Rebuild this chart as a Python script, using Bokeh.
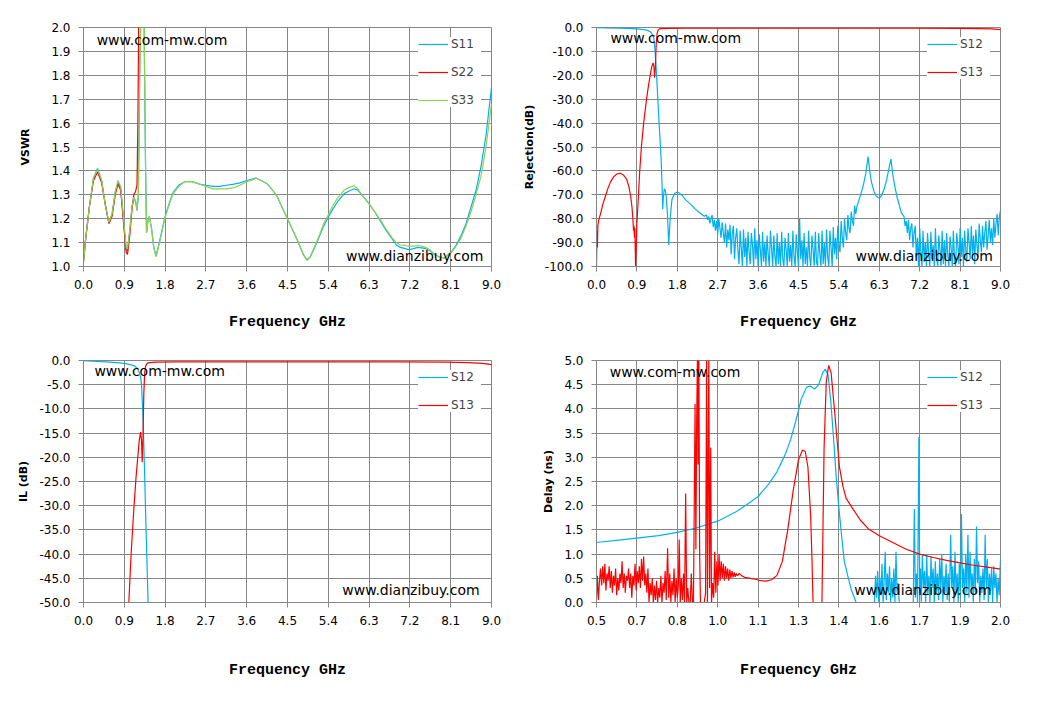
from bokeh.embed import file_html
from bokeh.layouts import gridplot
from bokeh.models import FixedTicker, Label
from bokeh.plotting import figure
from bokeh.resources import INLINE

NAN = float("nan")

BLUE = "#00B0F0"
RED = "#FF0000"
GREEN = "#92D050"
GRID_COLOR = "#868686"

# ---------------- axis ticks ----------------
freq_ticks = [0.0, 0.9, 1.8, 2.7, 3.6, 4.5, 5.4, 6.3, 7.2, 8.1, 9.0]
freq_tick_labels = ["0.0", "0.9", "1.8", "2.7", "3.6", "4.5", "5.4", "6.3", "7.2", "8.1", "9.0"]
delay_freq_ticks = [0.5, 0.65, 0.8, 0.95, 1.1, 1.25, 1.4, 1.55, 1.7, 1.85, 2.0]
delay_freq_tick_labels = ["0.5", "0.7", "0.8", "1.0", "1.1", "1.3", "1.4", "1.6", "1.7", "1.9", "2.0"]
vswr_ticks = [1.0, 1.1, 1.2, 1.3, 1.4, 1.5, 1.6, 1.7, 1.8, 1.9, 2.0]
vswr_tick_labels = ["1.0", "1.1", "1.2", "1.3", "1.4", "1.5", "1.6", "1.7", "1.8", "1.9", "2.0"]
rej_ticks = [0, -10, -20, -30, -40, -50, -60, -70, -80, -90, -100]
rej_tick_labels = ["0.0", "-10.0", "-20.0", "-30.0", "-40.0", "-50.0", "-60.0", "-70.0", "-80.0", "-90.0", "-100.0"]
il_ticks = [0, -5, -10, -15, -20, -25, -30, -35, -40, -45, -50]
il_tick_labels = ["0.0", "-5.0", "-10.0", "-15.0", "-20.0", "-25.0", "-30.0", "-35.0", "-40.0", "-45.0", "-50.0"]
delay_ticks = [0.0, 0.5, 1.0, 1.5, 2.0, 2.5, 3.0, 3.5, 4.0, 4.5, 5.0]
delay_tick_labels = ["0.0", "0.5", "1.0", "1.5", "2.0", "2.5", "3.0", "3.5", "4.0", "4.5", "5.0"]

# ---------------- VSWR (GHz) ----------------
vswr_freq = [0.0, 0.05, 0.13, 0.22, 0.31, 0.4, 0.48, 0.56, 0.63, 0.7,
             0.76, 0.82, 0.88, 0.94, 0.97, 1.02, 1.07, 1.11, 1.15, 1.18,
             1.21, 1.24, 1.32, 1.34, 1.37, 1.39, 1.42, 1.45, 1.5, 1.55,
             1.6, 1.66, 1.73, 1.8, 1.9, 1.98, 2.1, 2.23, 2.4, 2.55,
             2.7, 2.85, 3.0, 3.15, 3.32, 3.45, 3.6, 3.7, 3.8, 3.92,
             4.06, 4.17, 4.28, 4.4, 4.5, 4.62, 4.74, 4.85, 4.93, 5.0,
             5.1, 5.19, 5.3, 5.41, 5.5, 5.6, 5.75, 5.85, 5.97, 6.05,
             6.14, 6.29, 6.42, 6.55, 6.68, 6.81, 6.9, 6.99, 7.1, 7.18,
             7.28, 7.37, 7.46, 7.55, 7.65, 7.74, 7.85, 7.96, 8.05, 8.11,
             8.22, 8.33, 8.44, 8.55, 8.66, 8.77, 8.88, 9.0]
vswr_s11 = [1.02, 1.12, 1.25, 1.37, 1.41, 1.36, 1.26, 1.18, 1.22, 1.31,
            1.355, 1.33, 1.2, 1.07, 1.065, 1.15, 1.25, 1.29, 1.27, 1.235,
            1.3, 1.8, 2.6, 1.95, 1.4, 1.14, 1.19, 1.21, 1.16, 1.08,
            1.045, 1.09, 1.15, 1.21, 1.27, 1.31, 1.34, 1.355, 1.355, 1.345,
            1.34, 1.335, 1.335, 1.34, 1.345, 1.35, 1.36, 1.365, 1.37, 1.36,
            1.345, 1.32, 1.29, 1.24, 1.2, 1.15, 1.1, 1.05, 1.028, 1.04,
            1.08, 1.12, 1.17, 1.21, 1.24, 1.27, 1.305, 1.315, 1.325, 1.32,
            1.3, 1.265, 1.23, 1.19, 1.15, 1.115, 1.09, 1.08, 1.075, 1.07,
            1.075, 1.08, 1.078, 1.075, 1.065, 1.05, 1.04, 1.035, 1.05, 1.06,
            1.09, 1.13, 1.18, 1.25, 1.32, 1.42, 1.55, 1.75]
vswr_s33 = [1.02, 1.12, 1.25, 1.37, 1.405, 1.36, 1.26, 1.185, 1.22, 1.31,
            1.36, 1.335, 1.21, 1.08, 1.075, 1.15, 1.25, 1.29, 1.275, 1.235,
            1.3, 1.8, 2.6, 1.95, 1.4, 1.14, 1.19, 1.21, 1.16, 1.08,
            1.04, 1.085, 1.145, 1.205, 1.265, 1.305, 1.335, 1.355, 1.355, 1.345,
            1.335, 1.325, 1.325, 1.325, 1.33, 1.34, 1.355, 1.36, 1.37, 1.36,
            1.345, 1.32, 1.29, 1.24, 1.2, 1.15, 1.1, 1.05, 1.025, 1.04,
            1.085, 1.125, 1.18, 1.22, 1.255, 1.285, 1.32, 1.33, 1.338, 1.325,
            1.3, 1.265, 1.23, 1.195, 1.155, 1.12, 1.1, 1.09, 1.088, 1.085,
            1.085, 1.088, 1.085, 1.08, 1.068, 1.052, 1.04, 1.035, 1.05, 1.058,
            1.085, 1.12, 1.17, 1.23, 1.3, 1.38, 1.5, 1.68]
vswr_s22_freq = [0.0, 0.05, 0.13, 0.22, 0.31, 0.4, 0.48, 0.56, 0.63, 0.7,
                 0.76, 0.82, 0.88, 0.94, 0.97, 1.02, 1.07, 1.11, 1.15, 1.18,
                 1.2, 1.22, 1.24]
vswr_s22 = [1.02, 1.12, 1.25, 1.36, 1.395, 1.35, 1.26, 1.18, 1.21, 1.3,
            1.345, 1.32, 1.19, 1.06, 1.05, 1.13, 1.24, 1.3, 1.315, 1.34,
            1.6, 2.1, 2.6]

# ---------------- S12 / S13 transmission (dB) ----------------
s12_edge_freq = [0.0, 0.2, 0.5, 0.8, 0.9, 1.0, 1.1, 1.16, 1.2, 1.23,
                 1.26, 1.28, 1.3, 1.32, 1.35, 1.38, 1.41, 1.44, 1.46, 1.475,
                 1.49, 1.51, 1.53, 1.55, 1.58, 1.61, 1.64, 1.68, 1.74, 1.8,
                 1.86, 1.92, 1.98, 2.1, 2.2, 2.3, 2.4]
s12_edge_db = [-0.05, -0.15, -0.3, -0.5, -0.6, -0.8, -1.0, -1.4, -1.8, -2.5,
               -3.5, -5.0, -9.0, -14.0, -24.0, -35.0, -45.0, -55.0, -66.0, -76.0,
               -71.0, -67.5, -68.0, -70.0, -78.0, -91.0, -80.0, -72.0, -69.5, -68.8,
               -69.5, -70.5, -72.0, -74.0, -76.0, -77.5, -79.0]
s12_floor_a_freq = [2.45, 2.475, 2.5, 2.525, 2.55, 2.575, 2.6, 2.625, 2.65, 2.675,
                    2.7, 2.725, 2.75, 2.775, 2.8, 2.825, 2.85, 2.875, 2.9, 2.925,
                    2.95, 2.975, 3.0, 3.025, 3.05, 3.075, 3.1, 3.125, 3.15, 3.175,
                    3.2, 3.225, 3.25, 3.275, 3.3, 3.325, 3.35, 3.375, 3.4, 3.425,
                    3.45, 3.475, 3.5, 3.525, 3.55, 3.575, 3.6, 3.625, 3.65, 3.675,
                    3.7, 3.725, 3.75, 3.775, 3.8, 3.825, 3.85, 3.875, 3.9, 3.925,
                    3.95, 3.975, 4.0, 4.025, 4.05, 4.075, 4.1, 4.125, 4.15, 4.175,
                    4.2, 4.225, 4.25, 4.275, 4.3, 4.325, 4.35, 4.375, 4.4, 4.425,
                    4.45, 4.475, 4.5, 4.525, 4.55, 4.575, 4.6, 4.625, 4.65, 4.675,
                    4.7, 4.725, 4.75, 4.775, 4.8, 4.825, 4.85, 4.875, 4.9, 4.925,
                    4.95, 4.975, 5.0, 5.025, 5.05, 5.075, 5.1, 5.125, 5.15, 5.175,
                    5.2, 5.225, 5.25, 5.275, 5.3, 5.325, 5.35, 5.375, 5.4, 5.425,
                    5.45, 5.475, 5.5, 5.525, 5.55, 5.575, 5.6, 5.625, 5.65, 5.675,
                    5.7, 5.725, 5.75, 5.775, 5.8]
s12_floor_a_db = [-78.5, -80.5, -79.0, -82.0, -80.0, -78.5, -83.5, -80.5, -85.0, -81.0,
                  -86.5, -80.0, -84.0, -88.0, -81.5, -86.0, -90.0, -82.0, -92.0, -84.5,
                  -89.0, -82.5, -95.0, -86.0, -83.0, -97.0, -88.0, -84.0, -93.0, -99.0,
                  -85.0, -92.0, -100.0, -84.5, -96.0, -88.0, -100.0, -85.5, -94.0, -99.0,
                  -86.0, -91.0, -100.0, -84.0, -97.0, -89.0, -100.0, -86.5, -93.0, -100.0,
                  -85.5, -98.0, -90.0, -100.0, -87.0, -95.0, -100.0, -85.0, -92.0, -100.0,
                  -87.0, -96.0, -100.0, -86.0, -99.0, -90.0, -100.0, -85.5, -97.0, -100.0,
                  -88.0, -93.0, -100.0, -86.0, -98.0, -91.0, -100.0, -85.0, -96.0, -100.0,
                  -86.5, -94.0, -100.0, -80.0, -97.0, -89.0, -100.0, -86.0, -99.0, -92.0,
                  -100.0, -85.0, -96.0, -100.0, -87.0, -93.0, -100.0, -85.5, -98.0, -100.0,
                  -86.0, -95.0, -100.0, -85.0, -99.0, -90.0, -100.0, -84.5, -96.0, -100.0,
                  -85.0, -92.0, -100.0, -83.5, -95.0, -88.0, -97.0, -83.0, -91.0, -94.0,
                  -81.0, -88.0, -92.0, -80.0, -86.0, -89.0, -78.5, -84.0, -86.0, -77.0,
                  -81.0, -83.0, -74.5, -78.0, -75.0]
s12_spur_freq = [5.85, 5.9, 5.95, 6.0, 6.05, 6.09, 6.13, 6.18, 6.23, 6.3,
                 6.36, 6.41, 6.46, 6.51, 6.56, 6.6, 6.64, 6.69, 6.74, 6.79]
s12_spur_db = [-72.0, -69.0, -65.5, -61.0, -54.0, -60.5, -65.0, -68.5, -70.5, -71.5,
               -70.0, -67.5, -64.0, -59.5, -55.0, -61.5, -66.0, -70.5, -74.0, -77.5]
s12_floor_c_freq = [6.85, 6.875, 6.9, 6.925, 6.95, 6.975, 7.0, 7.025, 7.05, 7.075,
                    7.1, 7.125, 7.15, 7.175, 7.2, 7.225, 7.25, 7.275, 7.3, 7.325,
                    7.35, 7.375, 7.4, 7.425, 7.45, 7.475, 7.5, 7.525, 7.55, 7.575,
                    7.6, 7.625, 7.65, 7.675, 7.7, 7.725, 7.75, 7.775, 7.8, 7.825,
                    7.85, 7.875, 7.9, 7.925, 7.95, 7.975, 8.0, 8.025, 8.05, 8.075,
                    8.1, 8.125, 8.15, 8.175, 8.2, 8.225, 8.25, 8.275, 8.3, 8.325,
                    8.35, 8.375, 8.4, 8.425, 8.45, 8.475, 8.5, 8.525, 8.55, 8.575,
                    8.6, 8.625, 8.65, 8.675, 8.7, 8.725, 8.75, 8.775, 8.8, 8.825,
                    8.85, 8.875, 8.9, 8.925, 8.95, 8.975, 9.0]
s12_floor_c_db = [-79.0, -83.0, -81.0, -86.0, -80.5, -89.0, -84.0, -82.0, -92.0, -86.0,
                  -83.0, -96.0, -88.0, -100.0, -84.0, -94.0, -100.0, -85.0, -98.0, -90.0,
                  -100.0, -86.0, -95.0, -100.0, -85.5, -97.0, -91.0, -100.0, -84.0, -96.0,
                  -100.0, -87.0, -93.0, -100.0, -85.0, -99.0, -89.0, -100.0, -86.0, -95.0,
                  -100.0, -87.5, -92.0, -100.0, -85.0, -97.0, -100.0, -86.0, -91.0, -99.0,
                  -84.0, -96.0, -88.0, -100.0, -85.0, -93.0, -98.0, -84.0, -90.0, -97.0,
                  -83.0, -95.0, -87.0, -99.0, -84.5, -91.0, -96.0, -82.0, -89.0, -94.0,
                  -83.0, -92.0, -86.0, -81.0, -93.0, -87.0, -80.5, -90.0, -84.0, -91.0,
                  -80.0, -88.0, -82.0, -78.0, -87.0, -79.0, -76.5]

s13_freq = [0.0, 0.012, 0.02, 0.03, 0.05, 0.09, 0.14, 0.2, 0.26, 0.31,
            0.38, 0.45, 0.53, 0.6, 0.67, 0.72, 0.76, 0.79, 0.81, 0.825,
            0.835, 0.845, 0.855, 0.87, 0.885, 0.9, 0.93, 0.96, 1.0, 1.05,
            1.11, 1.16, 1.2, 1.23, 1.26, 1.28, 1.295, 1.31, 1.33, 1.35,
            1.37, 1.4, 1.45, 1.6, 2.0, 3.0, 4.0, 5.0, 6.0, 7.0,
            8.0, 8.5, 8.8, 9.0]
s13_db = [-100.0, -85.0, -92.0, -83.0, -80.5, -78.0, -74.0, -70.5, -67.0, -64.7,
          -62.5, -61.3, -61.0, -61.7, -63.5, -66.5, -70.5, -75.0, -80.0, -85.0,
          -83.0, -88.0, -84.0, -100.0, -92.0, -82.0, -72.0, -61.0, -50.0, -40.0,
          -30.7, -24.0, -19.7, -16.5, -14.8, -16.5, -21.0, -17.0, -7.0, -2.5,
          -1.2, -0.6, -0.45, -0.35, -0.3, -0.3, -0.3, -0.3, -0.3, -0.3,
          -0.35, -0.45, -0.6, -0.85]

# ---------------- group delay (ns) ----------------
delay_s12_freq = [0.5, 0.6, 0.65, 0.73, 0.8, 0.87, 0.95, 1.02, 1.06, 1.1,
                  1.14, 1.17, 1.2, 1.22, 1.24, 1.26, 1.28, 1.295, 1.31, 1.325,
                  1.34, 1.35, 1.36, 1.37, 1.38, 1.39, 1.4, 1.41, 1.42, 1.433,
                  1.445, 1.464]
delay_s12_ns = [1.24, 1.3, 1.33, 1.38, 1.45, 1.54, 1.68, 1.88, 2.03, 2.19,
                2.45, 2.7, 3.05, 3.35, 3.75, 4.2, 4.45, 4.47, 4.41, 4.5,
                4.75, 4.82, 4.7, 4.15, 3.4, 2.6, 1.95, 1.38, 0.85, 0.55,
                0.28, 0.0]
delay_s12_noise_freq = [1.532, 1.536, 1.54, 1.544, 1.548, 1.552, 1.556, 1.56, 1.564, 1.568,
                        1.572, 1.576, 1.58, 1.584, 1.588, 1.592, 1.596, 1.6, 1.604, 1.608,
                        1.612, 1.616, 1.62, 1.624, NAN, 1.676, 1.68, 1.684, 1.688, 1.692,
                        1.697, 1.7, 1.703, 1.706, 1.71, 1.714, 1.718, 1.722, 1.726, 1.73,
                        1.734, 1.738, 1.742, 1.746, 1.75, 1.754, 1.758, 1.762, 1.766, 1.77,
                        1.774, 1.778, 1.782, 1.786, 1.79, 1.794, 1.798, 1.802, 1.806, 1.81,
                        1.815, 1.819, 1.823, 1.827, 1.831, 1.835, 1.839, 1.843, 1.847, 1.851,
                        1.855, 1.859, 1.863, 1.867, 1.871, 1.875, 1.879, 1.883, 1.887, 1.891,
                        1.895, 1.899, 1.903, 1.907, 1.911, 1.915, 1.919, 1.923, 1.927, 1.931,
                        1.935, 1.939, 1.943, 1.947, 1.951, 1.955, 1.959, 1.963, 1.967, 1.971,
                        1.975, 1.979, 1.983, 1.987, 1.991, 1.995, 2.0]
delay_s12_noise_ns = [0.0, 0.55, 0.1, 0.65, 0.0, 0.5, 0.15, 0.8, 0.0, 0.45,
                      1.05, 0.05, 0.6, 0.2, 0.75, 0.0, 0.5, 0.1, 0.7, 0.0,
                      1.05, 0.2, 0.4, 0.0, NAN, 0.0, 1.93, 0.1, 0.6, 0.0,
                      3.42, 0.2, 0.7, 0.0, 1.0, 0.3, 0.65, 0.0, 1.0, 0.15,
                      0.55, 0.0, 0.95, 0.3, 0.7, 0.0, 0.85, 0.2, 0.6, 0.05,
                      0.9, 0.3, 1.0, 0.0, 0.55, 0.2, 0.8, 0.05, 0.6, 0.0,
                      1.4, 0.3, 0.75, 0.0, 1.05, 0.2, 0.6, 0.0, 0.8, 0.15,
                      1.83, 0.3, 0.7, 0.0, 1.0, 0.2, 1.4, 0.1, 1.05, 0.3,
                      0.6, 0.0, 0.9, 0.2, 1.57, 0.4, 0.85, 0.0, 0.55, 0.2,
                      0.7, 0.05, 1.4, 0.3, 0.9, 0.0, 0.6, 0.25, 0.7, 0.0,
                      0.75, 0.3, 0.6, 0.0, 0.5, 0.15, 0.9]

delay_s13_freq = [0.5, 0.503, 0.507, 0.511, 0.515, 0.519, 0.523, 0.527, 0.531, 0.535,
                  0.539, 0.543, 0.547, 0.551, 0.555, 0.559, 0.563, 0.567, 0.571, 0.575,
                  0.579, 0.583, 0.587, 0.591, 0.595, 0.599, 0.603, 0.607, 0.611, 0.615,
                  0.619, 0.623, 0.627, 0.631, 0.635, 0.639, 0.643, 0.647, 0.651, 0.655,
                  0.659, 0.663, 0.667, 0.671, 0.675, 0.679, 0.683, 0.687, 0.691, 0.695,
                  0.699, 0.703, 0.707, 0.711, 0.715, 0.719, 0.723, 0.727, 0.731, 0.735,
                  0.739, 0.743, 0.747, 0.751, 0.755, 0.759, 0.764, 0.768, 0.772, 0.776,
                  0.78, 0.784, 0.788, 0.792, 0.796, 0.8, 0.804, 0.807, 0.811, 0.815,
                  0.819, 0.823, 0.827, 0.831, 0.835, 0.839, 0.843, 0.848, 0.852, 0.856,
                  0.86, 0.866, 0.869, 0.872, 0.875, 0.877, 0.88, 0.883, 0.886, 0.89,
                  0.895, 0.9, 0.905, 0.909, 0.912, 0.917, 0.92, 0.924, 0.927, 0.931,
                  0.935, 0.939, 0.943, 0.947, 0.951, 0.955, 0.959, 0.963, 0.967, 0.971,
                  0.975, 0.979, 0.983, 0.987, 0.991, 0.995, 0.999, 1.003, 1.007, 1.011,
                  1.015, 1.019, 1.023, 1.03, 1.04, 1.05, 1.07, 1.09, 1.11, 1.13,
                  1.15, 1.17, 1.19, 1.21, 1.23, 1.25, 1.265, 1.275, 1.285, 1.295,
                  1.3, 1.304, NAN, 1.337, 1.345, 1.353, 1.362, 1.371, 1.384, 1.402,
                  1.415, 1.427, 1.45, 1.48, 1.51, 1.55, 1.6, 1.65, 1.7, 1.75,
                  1.8, 1.85, 1.9, 1.95, 2.0]
delay_s13_ns = [0.1, 0.55, 0.05, 0.45, 0.7, 0.35, 0.75, 0.4, 0.8, 0.25,
                0.6, 0.45, 0.75, 0.3, 0.65, 0.2, 0.55, 0.35, 0.7, 0.15,
                0.5, 0.25, 0.6, 0.4, 0.85, 0.3, 0.6, 0.2, 0.55, 0.45,
                0.7, 0.3, 0.6, 0.1, 0.55, 0.35, 0.8, 0.25, 0.65, 0.4,
                0.75, 0.3, 0.9, 0.45, 0.95, 0.35, 0.6, 0.2, 0.7, 0.0,
                0.4, 0.15, 0.5, 0.0, 0.35, 0.05, 0.45, 0.0, 0.3, 0.1,
                0.55, 0.0, 0.4, 0.2, 0.65, 0.05, 1.12, 0.1, 0.6, 0.0,
                0.45, 0.15, 0.7, 0.0, 0.5, 0.1, 0.35, 1.3, 0.0, 0.5,
                0.05, 0.6, 0.0, 2.25, 0.0, 0.3, 0.0, 0.0, 0.6, 0.0,
                0.0, 4.1, 1.1, 3.8, 5.2, 2.85, 5.2, 1.0, 0.0, 0.0,
                0.0, 0.0, 0.2, 5.2, 0.0, 5.2, 0.3, 3.2, 0.0, 0.4,
                0.1, 1.05, 0.2, 0.85, 0.35, 1.0, 0.45, 0.85, 0.5, 0.8,
                0.45, 0.75, 0.5, 0.7, 0.45, 0.68, 0.5, 0.65, 0.52, 0.62,
                0.53, 0.6, 0.55, 0.6, 0.55, 0.52, 0.5, 0.48, 0.45, 0.44,
                0.47, 0.56, 0.85, 1.5, 2.3, 2.95, 3.15, 3.12, 2.8, 1.8,
                0.9, 0.0, NAN, 0.0, 3.2, 4.55, 4.9, 4.75, 3.95, 2.8,
                2.4, 2.15, 1.95, 1.7, 1.52, 1.38, 1.24, 1.1, 1.0, 0.93,
                0.87, 0.82, 0.77, 0.73, 0.69]

s12_freq = s12_edge_freq + s12_floor_a_freq + s12_spur_freq + s12_floor_c_freq
s12_db = s12_edge_db + s12_floor_a_db + s12_spur_db + s12_floor_c_db
delay_s12_all_freq = delay_s12_freq + [NAN] + delay_s12_noise_freq
delay_s12_all_ns = delay_s12_ns + [NAN] + delay_s12_noise_ns


def make_panel(width, height, borders, x_range, y_range, x_ticks, x_labels,
               y_ticks, y_labels, y_title, y_title_standoff, x_title_standoff):
    left, right, top, bottom = borders
    p = figure(width=width, height=height, x_range=x_range, y_range=y_range,
               output_backend="svg", toolbar_location=None, tools="",
               min_border_left=left, min_border_right=right,
               min_border_top=top, min_border_bottom=bottom)
    p.outline_line_color = GRID_COLOR
    p.outline_line_alpha = 1.0
    p.xaxis.ticker = FixedTicker(ticks=x_ticks)
    p.yaxis.ticker = FixedTicker(ticks=y_ticks)
    p.xaxis.major_label_overrides = dict(zip(x_ticks, x_labels))
    p.yaxis.major_label_overrides = dict(zip(y_ticks, y_labels))
    p.axis.axis_line_color = GRID_COLOR
    p.axis.major_tick_line_color = GRID_COLOR
    p.axis.major_tick_in = 0
    p.axis.major_tick_out = 5
    p.axis.minor_tick_line_color = None
    p.axis.major_label_text_font = "DejaVu Sans"
    p.axis.major_label_text_font_size = "12px"
    p.axis.major_label_text_color = "black"
    p.axis.major_label_standoff = 8
    p.grid.grid_line_color = GRID_COLOR
    p.grid.grid_line_alpha = 1.0

    p.xaxis.axis_label = "Frequency GHz"
    p.xaxis.axis_label_text_font = "Liberation Mono"
    p.xaxis.axis_label_text_font_style = "bold"
    p.xaxis.axis_label_text_font_size = "15px"
    p.xaxis.axis_label_text_color = "black"
    p.xaxis.axis_label_standoff = x_title_standoff

    p.yaxis.axis_label = y_title
    p.yaxis.axis_label_text_font = "DejaVu Sans"
    p.yaxis.axis_label_text_font_style = "bold"
    p.yaxis.axis_label_text_font_size = "11px"
    p.yaxis.axis_label_text_color = "black"
    p.yaxis.axis_label_standoff = y_title_standoff
    return p


def style_legend(p):
    lg = p.legend[0]
    lg.location = "top_right"
    lg.margin = 10
    lg.padding = 4
    lg.spacing = 14
    lg.label_height = 14
    lg.label_width = 30
    lg.glyph_height = 14
    lg.glyph_width = 30
    lg.label_standoff = 3
    lg.label_text_font = "DejaVu Sans"
    lg.label_text_font_size = "12px"
    lg.border_line_color = None
    lg.background_fill_color = "white"
    lg.background_fill_alpha = 1.0


def watermarks(p, top_xy, bottom_xy):
    p.add_layout(Label(x=top_xy[0], y=top_xy[1], text="www.com-mw.com",
                       text_font="DejaVu Sans", text_font_size="14px",
                       text_baseline="middle", text_color="black"))
    p.add_layout(Label(x=bottom_xy[0], y=bottom_xy[1], text="www.dianzibuy.com",
                       text_font="DejaVu Sans", text_font_size="14px",
                       text_baseline="middle", text_align="right",
                       text_color="black"))


LW = 1.2

# VSWR
p1 = make_panel(519, 338, (83, 28, 23, 72), (0, 9), (1, 2),
                freq_ticks, freq_tick_labels, vswr_ticks, vswr_tick_labels,
                "VSWR", 16, 22)
p1.line(vswr_freq, vswr_s11, color=BLUE, line_width=LW, legend_label="S11")
p1.line(vswr_s22_freq, vswr_s22, color=RED, line_width=LW, legend_label="S22")
p1.line(vswr_freq, vswr_s33, color=GREEN, line_width=LW, legend_label="S33")
style_legend(p1)
watermarks(p1, (0.29, 1.946), (8.82, 1.045))

# Rejection
p2 = make_panel(524, 338, (72, 43, 27, 70), (0, 9), (-100, 0),
                freq_ticks, freq_tick_labels, rej_ticks, rej_tick_labels,
                "Rejection(dB)", 6, 22)
p2.line(s12_freq, s12_db, color=BLUE, line_width=LW, legend_label="S12")
p2.line(s13_freq, s13_db, color=RED, line_width=LW, legend_label="S13")
style_legend(p2)
watermarks(p2, (0.31, -4.6), (8.83, -95.7))

# Insertion loss
p3 = make_panel(519, 354, (83, 28, 22, 90), (0, 9), (-50, 0),
                freq_ticks, freq_tick_labels, il_ticks, il_tick_labels,
                "IL (dB)", 6, 34)
p3.line(s12_freq, s12_db, color=BLUE, line_width=LW, legend_label="S12")
p3.line(s13_freq, s13_db, color=RED, line_width=LW, legend_label="S13")
style_legend(p3)
watermarks(p3, (0.24, -2.2), (8.74, -47.4))

# Group delay
p4 = make_panel(524, 354, (72, 43, 22, 90), (0.5, 2.0), (0, 5),
                delay_freq_ticks, delay_freq_tick_labels, delay_ticks, delay_tick_labels,
                "Delay (ns)", 6, 34)
p4.line(delay_s12_all_freq, delay_s12_all_ns, color=BLUE, line_width=LW, legend_label="S12")
p4.line(delay_s13_freq, delay_s13_ns, color=RED, line_width=LW, legend_label="S13")
style_legend(p4)
watermarks(p4, (0.549, 4.76), (1.967, 0.257))

grid = gridplot([[p1, p2], [p3, p4]], toolbar_location=None)

open("out.html", "w").write(file_html(grid, INLINE))
